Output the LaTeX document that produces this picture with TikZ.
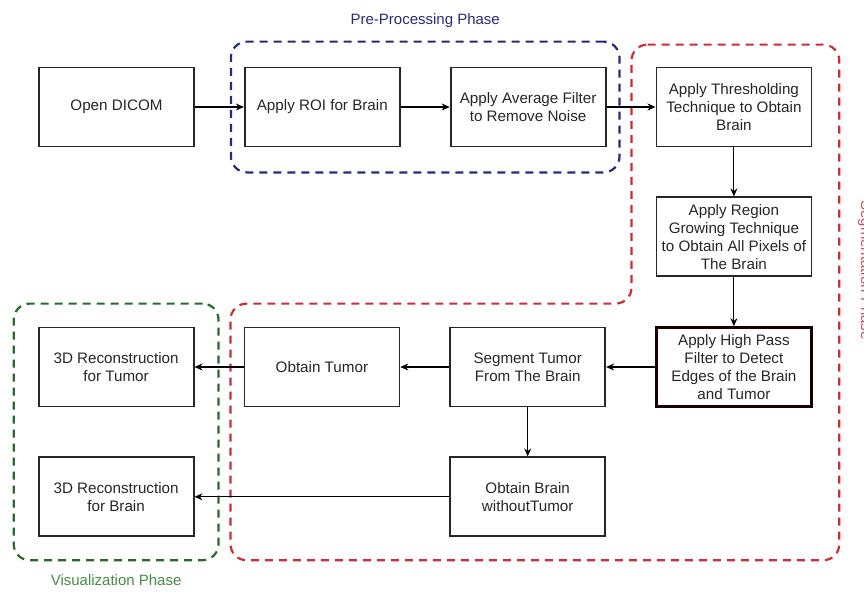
\documentclass[tikz,border=0pt]{standalone}
\usepackage{fontspec}
\setmainfont{Liberation Sans}
\usetikzlibrary{positioning, fit, calc, arrows.meta}
\definecolor{prepblue}{RGB}{40,42,125}
\definecolor{segred}{RGB}{205,45,55}
\definecolor{visgreen}{RGB}{40,105,45}
\definecolor{vistext}{RGB}{70,140,70}

\begin{document}
\begin{tikzpicture}[x=1pt, y=-1pt, node distance=49pt,
  box node/.style={rectangle,draw=black!85,line width=1.8pt,minimum width=155pt,
    minimum height=79pt,align=center,inner sep=2pt,text=black!85,
    font=\fontsize{15.2}{18}\selectfont},
  phase/.style={line width=2.2pt,dash pattern=on 8pt off 6pt,rounded corners=16pt},
  phase label/.style={font=\fontsize{15}{18}\selectfont},
  every edge/.style={draw,line width=1.1pt,-{Stealth[length=8pt,width=7pt]}}]

\useasboundingbox (0,0) rectangle (864,592);

\node[box node] (dicom) at (116.5,107) {Open DICOM};
\node[box node] (roi) [right=of dicom] {Apply ROI for Brain};
\node[box node] (avg) [right=of roi] {Apply Average Filter\\to Remove Noise};
\node[box node] (thresh) [right=of avg] {Apply Thresholding\\Technique to Obtain\\Brain};
\node[box node] (grow) [below=of thresh] {Apply Region\\Growing Technique\\to Obtain All Pixels of\\The Brain};
\node[box node, line width=2.6pt, draw=black!90!red] (hpf) [below=of grow] {Apply High Pass\\Filter to Detect\\Edges of the Brain\\and Tumor};
\node[box node] (segtum) [left=of hpf] {Segment Tumor\\From The Brain};
\node[box node] (tumor) [left=of segtum] {Obtain Tumor};
\node[box node] (rectum) [left=of tumor] {3D Reconstruction\\for Tumor};
\node[box node] (nobrain) [below=of segtum] {Obtain Brain\\withoutTumor};
\node[box node] (recbrain) [below=of rectum] {3D Reconstruction\\for Brain};

% phases
\node[phase, draw=prepblue, fit=(roi)(avg), inner xsep=13pt, inner ysep=25pt] (prep) {};
\node[phase label, text=prepblue] (preplabel) [above=9pt of prep] {Pre-Processing Phase};

\node[phase, draw=visgreen, fit=(rectum)(recbrain), inner xsep=24pt, inner ysep=23pt] (vis) {};
\node[phase label, text=vistext] (vislabel) [below=10pt of vis] {Visualization Phase};

\draw[phase, draw=segred] ($(thresh.north west)+(-24pt,22pt)$)
  -- ($(thresh.north east)+(27pt,22pt)$)
  -- ($(thresh.east |- nobrain.south)+(27pt,-23pt)$)
  -- ($(tumor.west |- nobrain.south)+(-13pt,-23pt)$)
  -- ($(tumor.north west)+(-13pt,23pt)$)
  -- ($(thresh.west |- tumor.north)+(-24pt,23pt)$)
  -- cycle;
\node[phase label, text=segred!85, rotate=-90] (seglabel) at (865,270) {Segmentation Phase};

\path
(dicom) edge (roi)
(roi) edge (avg)
(avg) edge (thresh)
(thresh) edge (grow)
(grow) edge (hpf)
(hpf) edge (segtum)
(segtum) edge (tumor)
(tumor) edge (rectum)
(segtum) edge (nobrain)
(nobrain) edge (recbrain)
;
\end{tikzpicture}
\end{document}
